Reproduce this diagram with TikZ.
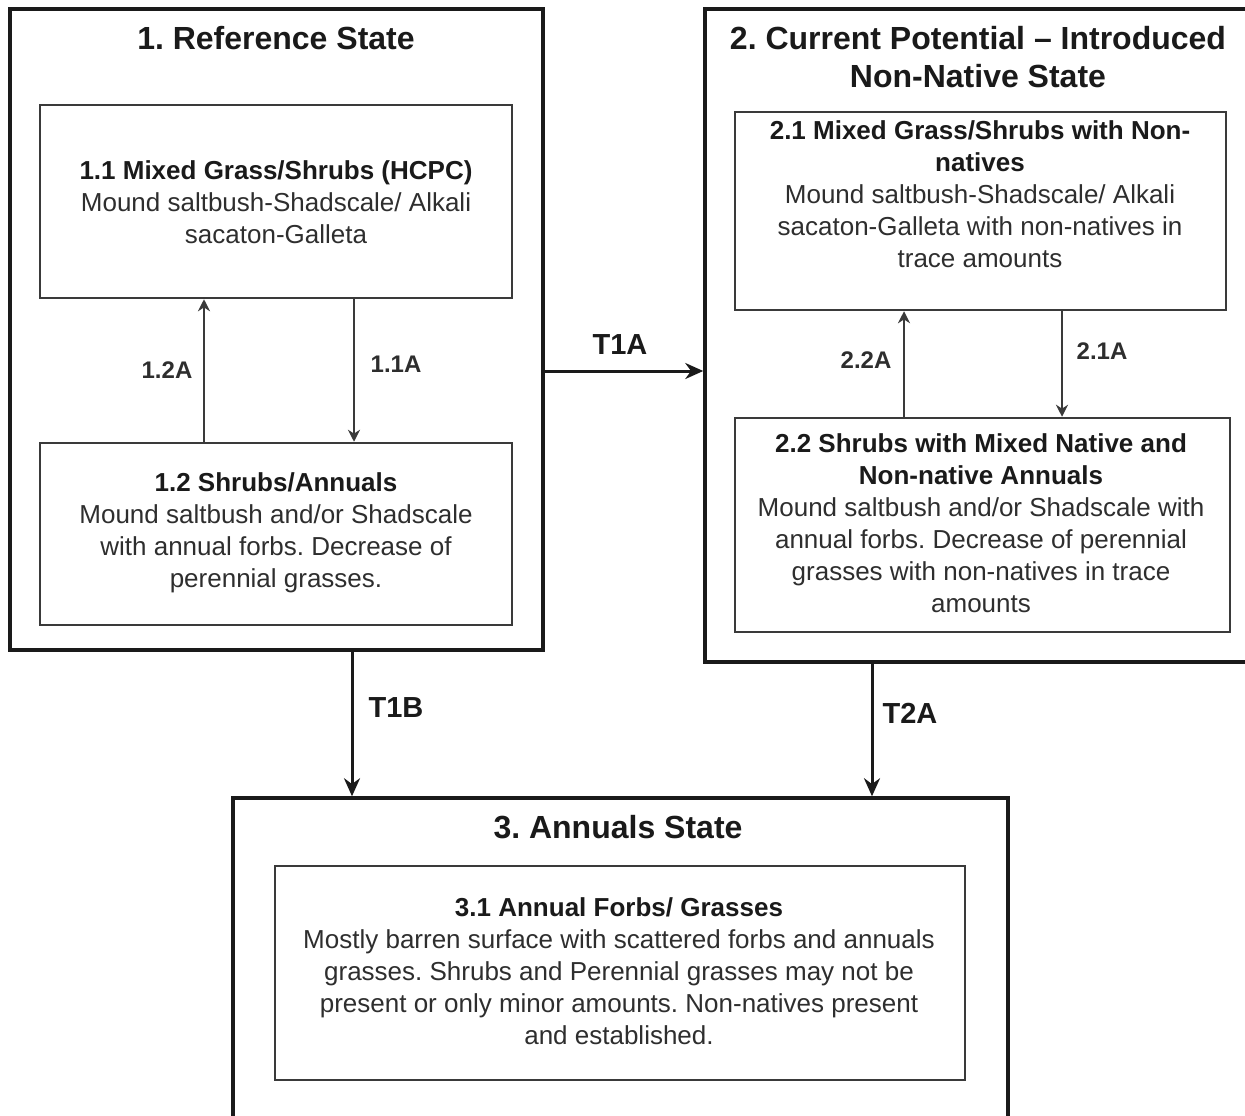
\documentclass[tikz,border=0pt]{standalone}
\usepackage{fontspec}
\setmainfont{Liberation Sans}
\usetikzlibrary{arrows.meta}
\definecolor{txt}{HTML}{2E2E2E}
\definecolor{ink}{HTML}{1A1A1A}
\definecolor{boxc}{HTML}{3A3A3A}
\frenchspacing
\begin{document}
\begin{tikzpicture}[x=1pt,y=-1pt,
  outerbox/.style={draw=ink,line width=3.5pt,rectangle,inner sep=0pt},
  innerbox/.style={draw=boxc,line width=2.5pt,rectangle,inner sep=0pt},
  statetitle/.style={font=\fontsize{32}{38}\selectfont\bfseries,text=ink,align=center,inner sep=0pt},
  body/.style={font=\fontsize{26}{32}\selectfont,text=txt,align=center,inner sep=0pt},
  lbl/.style={font=\fontsize{24}{28}\selectfont\bfseries,text=txt,inner sep=0pt},
  tlbl/.style={font=\fontsize{29}{34}\selectfont\bfseries,text=ink,inner sep=0pt},
  iarrow/.style={draw=boxc,line width=2.4pt,-{Stealth[length=12pt,width=12pt]}},
  oarrow/.style={draw=ink,line width=3pt,-{Stealth[length=18pt,width=16pt]}}]
\useasboundingbox (0,0) rectangle (1245,1116);
\fill[white] (0,0) rectangle (1245,1116);

% State 1
\node[outerbox,minimum width=533pt,minimum height=641pt] (s1) at (276.5,329.5) {};
\node[statetitle] (t1) at (276,38) {1. Reference State};
\node[innerbox,minimum width=472pt,minimum height=193pt] (b11) at (276,201.5) {};
\node[body] (x11) at (276,202) {\textbf{\color{ink}1.1 Mixed Grass/Shrubs (HCPC)}\\Mound saltbush-Shadscale/ Alkali\\sacaton-Galleta};
\node[innerbox,minimum width=472pt,minimum height=182pt] (b12) at (276,534) {};
\node[body] (x12) at (276,533) {\textbf{\color{ink}1.2 Shrubs/Annuals}\\Mound saltbush and/or Shadscale\\with annual forbs. Decrease of\\perennial grasses.};
\coordinate (a12) at (204,0);
\coordinate (a11) at (354,0);
\draw[iarrow] (b12.north -| a12) -- (b11.south -| a12);
\draw[iarrow] (b11.south -| a11) -- (b12.north -| a11);
\node[lbl] (l12) at (167,370) {1.2A};
\node[lbl] (l11) at (396,364) {1.1A};

% State 2
\node[outerbox,minimum width=550pt,minimum height=653pt] (s2) at (980,335.5) {};
\node[statetitle] (t2) at (978,57) {2. Current Potential – Introduced\\Non-Native State};
\node[innerbox,minimum width=491pt,minimum height=198pt] (b21) at (980.5,211) {};
\node[body] (x21) at (980,194) {\textbf{\color{ink}2.1 Mixed Grass/Shrubs with Non-}\\\textbf{\color{ink}natives}\\Mound saltbush-Shadscale/ Alkali\\sacaton-Galleta with non-natives in\\trace amounts};
\node[innerbox,minimum width=495pt,minimum height=214pt] (b22) at (982.5,525) {};
\node[body] (x22) at (981,523) {\textbf{\color{ink}2.2 Shrubs with Mixed Native and}\\\textbf{\color{ink}Non-native Annuals}\\Mound saltbush and/or Shadscale with\\annual forbs. Decrease of perennial\\grasses with non-natives in trace\\amounts};
\coordinate (a22) at (904,0);
\coordinate (a21) at (1062,0);
\draw[iarrow] (b22.north -| a22) -- (b21.south -| a22);
\draw[iarrow] (b21.south -| a21) -- (b22.north -| a21);
\node[lbl] (l22) at (866,360) {2.2A};
\node[lbl] (l21) at (1102,351) {2.1A};

% State 3
\node[outerbox,minimum width=775pt,minimum height=340pt] (s3) at (620.5,968) {};
\node[statetitle] (t3) at (618,827) {3. Annuals State};
\node[innerbox,minimum width=690pt,minimum height=214pt] (b31) at (620,973) {};
\node[body] (x31) at (619,971) {\textbf{\color{ink}3.1 Annual Forbs/ Grasses}\\Mostly barren surface with scattered forbs and annuals\\grasses. Shrubs and Perennial grasses may not be\\present or only minor amounts. Non-natives present\\and established.};

% Transitions
\coordinate (c1a) at (0,371);
\draw[oarrow] (s1.east |- c1a) -- (s2.west |- c1a);
\node[tlbl] (lt1a) at (620,345) {T1A};
\coordinate (c1b) at (352,0);
\draw[oarrow] (s1.south -| c1b) -- (s3.north -| c1b);
\node[tlbl] (lt1b) at (396,708) {T1B};
\coordinate (c2a) at (872,0);
\draw[oarrow] (s2.south -| c2a) -- (s3.north -| c2a);
\node[tlbl] (lt2a) at (910,713) {T2A};
\end{tikzpicture}
\end{document}
